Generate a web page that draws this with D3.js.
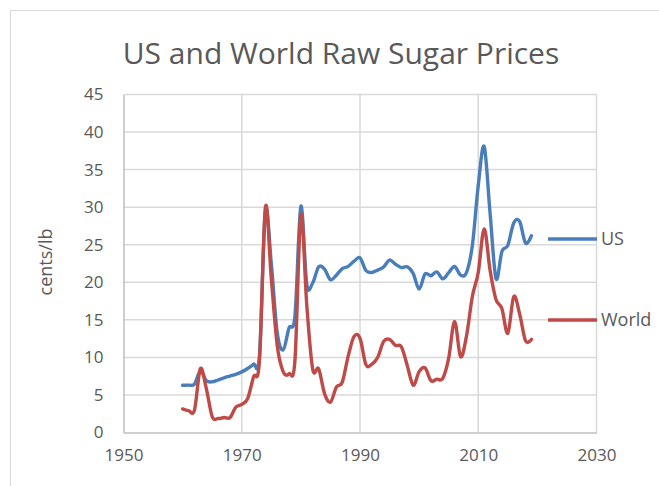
<!DOCTYPE html>
<html>
<head>
<meta charset="utf-8">
<script src="https://cdn.jsdelivr.net/npm/d3@7"></script>
<style>
  html, body { margin: 0; padding: 0; background: #fff; }
  svg { display: block; }
  text { font-family: "Open Sans", "Noto Sans", sans-serif; fill: #595959; }
</style>
</head>
<body>
<svg id="chart" width="659" height="486"></svg>
<script>
// Annual average raw sugar prices, cents per pound
const years = d3.range(1960, 2020);
const usPrice = [
  6.3, 6.3, 6.45, 8.18, 6.9, 6.75, 6.99, 7.28, 7.52, 7.75,
  8.07, 8.52, 9.09, 10.29, 29.5, 22.47, 13.31, 11.0, 13.93, 15.56,
  30.11, 19.73, 19.92, 22.04, 21.74, 20.34, 20.95, 21.83, 22.12, 22.81,
  23.26, 21.57, 21.31, 21.62, 22.04, 22.96, 22.4, 21.96, 22.06, 21.16,
  19.09, 21.11, 20.87, 21.38, 20.47, 21.28, 22.1, 20.96, 21.29, 24.88,
  32.89, 38.08, 29.2, 20.5, 24.1, 24.9, 27.9, 28.1, 25.2, 26.2
];
const worldPrice = [
  3.14, 2.91, 2.98, 8.5, 5.87, 2.12, 1.86, 1.99, 1.98, 3.37,
  3.75, 4.52, 7.43, 9.61, 29.99, 20.49, 11.58, 8.11, 7.82, 9.65,
  29.01, 16.93, 8.42, 8.49, 5.18, 4.04, 6.05, 6.71, 10.17, 12.79,
  12.55, 9.04, 9.09, 10.03, 12.13, 12.4, 11.6, 11.4, 8.9, 6.3,
  8.1, 8.6, 6.9, 7.1, 7.2, 9.9, 14.8, 10.1, 12.8, 18.1,
  21.3, 27.1, 21.6, 17.7, 16.5, 13.2, 18.1, 15.8, 12.2, 12.4
];
const xTicks = [1950, 1970, 1990, 2010, 2030];
const yTicks = [0, 5, 10, 15, 20, 25, 30, 35, 40, 45];
const seriesNames = ["US", "World"];
const seriesColors = ["#4a7ebb", "#be4b48"];

const svg = d3.select("#chart");

// chart frame
svg.append("rect")
  .attr("x", 10.5).attr("y", 10.5)
  .attr("width", 700).attr("height", 600)
  .attr("fill", "#fff").attr("stroke", "#d9d9d9").attr("stroke-width", 1);

const x = d3.scaleLinear().domain([1950, 2030]).range([123.5, 596.5]);
const y = d3.scaleLinear().domain([0, 45]).range([432.5, 94.5]);

// gridlines
const grid = svg.append("g");
grid.selectAll("line.h").data(yTicks.slice(1)).join("line")
  .attr("x1", x(1950)).attr("x2", x(2030))
  .attr("y1", d => y(d)).attr("y2", d => y(d))
  .attr("stroke", "#d9d9d9").attr("stroke-width", 1.5);
grid.selectAll("line.v").data(xTicks.slice(1)).join("line")
  .attr("x1", d => x(d)).attr("x2", d => x(d))
  .attr("y1", y(0)).attr("y2", y(45))
  .attr("stroke", "#d9d9d9").attr("stroke-width", 1.5);

// axes
const yAxis = d3.axisLeft(y).tickValues(yTicks).tickSize(0).tickPadding(20);
const xAxis = d3.axisBottom(x).tickValues(xTicks).tickSize(0).tickPadding(16)
  .tickFormat(d3.format("d"));

const gy = svg.append("g").attr("transform", `translate(${x(1950)},0)`).call(yAxis);
const gx = svg.append("g").attr("transform", `translate(0,${y(0)})`).call(xAxis);
[gx, gy].forEach(g => {
  g.select(".domain").attr("stroke", "#bfbfbf").attr("stroke-width", 1.5);
  g.selectAll("text").attr("font-size", 17).attr("fill", "#595959")
    .style("font-family", '"Open Sans", sans-serif');
});

// price lines
const line = d3.line()
  .x((d, i) => x(years[i]))
  .y(d => y(d))
  .curve(d3.curveCardinal.tension(0));

const allSeries = [usPrice, worldPrice];
svg.append("g").selectAll("path").data(allSeries).join("path")
  .attr("d", d => line(d))
  .attr("fill", "none")
  .attr("stroke", (d, i) => seriesColors[i])
  .attr("stroke-width", 3.4)
  .attr("stroke-linejoin", "round")
  .attr("stroke-linecap", "round");

// legend
const legendY = [239, 320];
const legend = svg.append("g").selectAll("g").data(seriesNames).join("g")
  .attr("transform", (d, i) => `translate(548,${legendY[i]})`);
legend.append("line")
  .attr("x1", 0).attr("x2", 49).attr("y1", 0).attr("y2", 0)
  .attr("stroke", (d, i) => seriesColors[i]).attr("stroke-width", 3.4);
legend.append("text")
  .attr("x", 53).attr("y", 0).attr("dy", "0.35em")
  .attr("font-size", 18).text(d => d);

// axis title
svg.append("text")
  .attr("transform", `translate(46,262) rotate(-90)`)
  .attr("text-anchor", "middle").attr("dy", "0.35em")
  .attr("font-size", 18).text("cents/lb");

// title
svg.append("text")
  .attr("x", 341).attr("y", 64)
  .attr("text-anchor", "middle")
  .attr("font-size", 30).text("US and World Raw Sugar Prices");
</script>
</body>
</html>
